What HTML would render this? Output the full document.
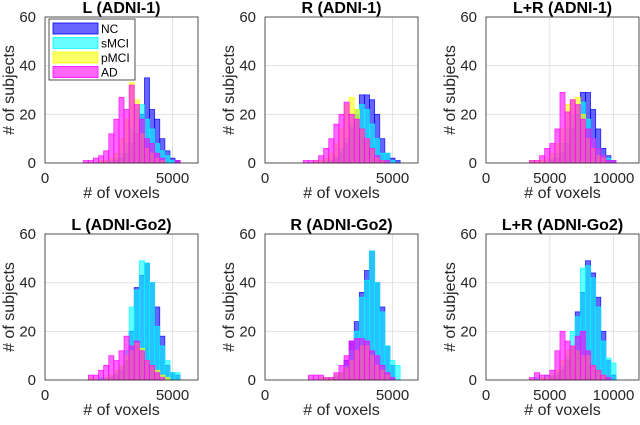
<!DOCTYPE html>
<html><head><meta charset="utf-8"><style>
body{margin:0;background:#fff}
svg{font-family:"Liberation Sans",sans-serif}
</style></head><body>
<svg id="c" width="640" height="420"></svg>
<script>
const seriesNames=["NC","sMCI","pMCI","AD"];
const seriesColors=["#0000ff","#00ffff","#ffff00","#ff00ff"];
const titles=["L (ADNI-1)","R (ADNI-1)","L+R (ADNI-1)","L (ADNI-Go2)","R (ADNI-Go2)","L+R (ADNI-Go2)"];
const binStart=[1500,1500,3400,1500,1500,3400];
const binWidth=[200,200,400,200,200,400];
const xMax=[6000,6000,12000,6000,6000,12000];
const xTicks1=[0,5000];
const xTicks2=[0,5000,10000];
const yTicks=[0,20,40,60];
const p1NC=[0,0,0,0,0,0,1,2,4,8,12,20,35,22,18,10,5,2,1,0];
const p1sMCI=[0,0,0,0,1,1,2,4,8,14,22,24,18,14,8,5,3,1,0,0];
const p1pMCI=[0,0,0,1,1,2,4,10,18,33,26,12,6,4,2,1,0,0,0,0];
const p1AD=[1,1,2,3,5,12,18,27,22,32,24,18,10,8,4,2,0,0,1,0];
const p2NC=[0,0,0,0,0,1,2,4,8,14,20,28,28,26,20,10,4,2,1,0];
const p2sMCI=[0,0,0,0,1,1,3,6,10,16,22,24,22,16,10,4,4,1,0,0];
const p2pMCI=[0,0,1,1,2,4,8,14,24,27,22,14,10,6,2,1,0,0,0,0];
const p2AD=[1,1,1,3,6,10,16,20,25,20,18,14,10,6,3,1,1,0,0,0];
const p3NC=[0,0,0,0,1,2,4,8,14,20,29,29,22,14,6,3,1];
const p3sMCI=[0,0,0,1,2,4,8,14,20,24,25,18,10,6,3,2,1];
const p3pMCI=[1,1,1,2,4,8,14,24,26,27,20,10,6,3,2,0,0];
const p3AD=[1,1,3,6,8,14,29,21,26,24,18,14,10,6,3,1,1];
const p4NC=[0,0,0,0,0,1,2,4,8,20,38,43,48,40,30,18,6,3,2,0];
const p4sMCI=[0,0,0,1,1,2,3,6,12,30,37,49,48,40,22,14,8,3,3,0];
const p4pMCI=[0,1,0,0,1,2,4,6,10,12,15,13,8,6,4,2,1,0,0,0];
const p4AD=[0,2,2,4,6,10,8,12,18,14,16,12,8,6,3,1,0,0,0,0];
const p5NC=[0,0,0,0,0,0,1,3,8,16,24,36,45,53,40,30,14,6,0,0];
const p5sMCI=[0,0,0,0,0,1,2,3,6,12,20,34,41,53,40,28,14,8,6,0];
const p5pMCI=[0,0,0,1,1,1,2,3,5,8,12,14,14,10,6,4,2,0,0,0];
const p5AD=[0,2,2,2,1,1,3,6,10,16,17,17,16,12,10,6,3,1,0,0];
const p6NC=[0,0,0,0,1,2,4,8,14,28,36,49,44,34,20,8,2];
const p6sMCI=[0,1,0,2,2,3,6,10,20,26,46,47,42,30,16,9,7];
const p6pMCI=[0,0,1,1,2,4,8,12,14,12,10,10,6,4,2,0,0];
const p6AD=[1,3,2,2,4,12,20,16,14,18,20,12,6,4,2,1,0];
const panelData=[[p1NC,p1sMCI,p1pMCI,p1AD],[p2NC,p2sMCI,p2pMCI,p2AD],[p3NC,p3sMCI,p3pMCI,p3AD],[p4NC,p4sMCI,p4pMCI,p4AD],[p5NC,p5sMCI,p5pMCI,p5AD],[p6NC,p6sMCI,p6pMCI,p6AD]];

const NS="http://www.w3.org/2000/svg";
const svg=document.getElementById('c');
function mk(tag,attrs,parent,text){const e=document.createElementNS(NS,tag);for(const k in attrs)e.setAttribute(k,attrs[k]);if(text!==undefined)e.textContent=text;(parent||svg).appendChild(e);return e;}
const lefts=[45,265,486];
const tops=[17,234];
const W=153,H=146;
for(let p=0;p<6;p++){
  const L=lefts[p%3],T=tops[Math.floor(p/3)];
  const g=mk('g',{});
  
  
  const xs=v=>L+v/xMax[p]*W;
  const ys=v=>T+H-v/60*H;
  mk('rect',{x:L,y:T,width:W,height:H,fill:'#fff'},g);
  const xt=xMax[p]>6000?xTicks2:xTicks1;
  xt.forEach(t=>{ if(t>0) mk('line',{x1:xs(t),x2:xs(t),y1:T,y2:T+H,stroke:'#e3e3e3','stroke-width':1},g);
    const tl=mk('text',{x:xs(t),y:T+H+20,'text-anchor':'middle','font-size':15,fill:'#262626'},g,String(t));
    
    });
  yTicks.forEach(t=>{ if(t>0&&t<60) mk('line',{x1:L,x2:L+W,y1:ys(t),y2:ys(t),stroke:'#e3e3e3','stroke-width':1},g);
    const tl=mk('text',{x:L-9,y:ys(t)+5,'text-anchor':'end','font-size':15,fill:'#262626'},g,String(t));
    
    });
  panelData[p].forEach((arr,s)=>{
    arr.forEach((v,i)=>{ if(v<=0) return;
      const x0=binStart[p]+i*binWidth[p];
      const r=mk('rect',{x:xs(x0),y:ys(v),width:xs(x0+binWidth[p])-xs(x0),height:ys(0)-ys(v),fill:seriesColors[s],'fill-opacity':0.6,stroke:seriesColors[s],'stroke-opacity':0.8,'stroke-width':0.8},g);
      
      
    });
  });
  mk('rect',{x:L,y:T,width:W,height:H,fill:'none',stroke:'#262626','stroke-width':0.8},g);
  const tt=mk('text',{x:L+W/2,y:T-4,'text-anchor':'middle','font-size':16,'font-weight':'bold',fill:'#000'},g,titles[p]);
  
  
  const xl=mk('text',{x:L+W/2,y:T+H+35,'text-anchor':'middle','font-size':16,fill:'#262626'},g,'# of voxels');
  
  
  const yl=mk('text',{x:0,y:0,'text-anchor':'middle','font-size':16,fill:'#262626',transform:`translate(${L-31},${T+H/2}) rotate(-90)`},g,'# of subjects');
  
  
}
// legend
const lg=mk('g',{});


mk('rect',{x:49,y:19,width:86,height:61,fill:'#fff',stroke:'#262626','stroke-width':0.8},lg);
seriesNames.forEach((n,i)=>{
  const y=23+i*14.5;
  const sw=mk('rect',{x:53,y:y,width:45,height:11,fill:seriesColors[i],'fill-opacity':0.6,stroke:seriesColors[i],'stroke-width':0.8},lg);
  
  
  const t=mk('text',{x:101,y:y+10,'font-size':12,fill:'#000'},lg,n);
  
  
});
</script>
</body></html>
